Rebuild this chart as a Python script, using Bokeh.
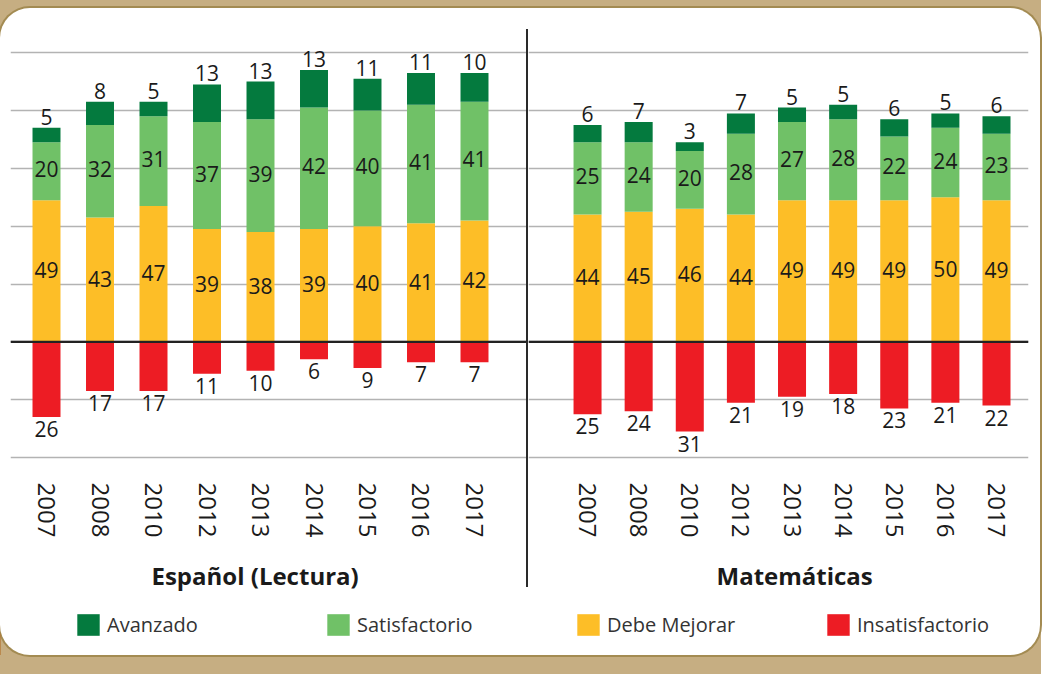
import numpy as np
from bokeh.plotting import figure
from bokeh.models import (Range1d, FixedTicker, Span, Title, Legend, LegendItem,
                          ColumnDataSource, Column, Row, Spacer)
from bokeh.core.properties import value
from bokeh.embed import file_html
from bokeh.resources import INLINE

# ---------------- data ----------------
years_es = ["2007", "2008", "2010", "2012", "2013", "2014", "2015", "2016", "2017"]
es_avanzado = [5, 8, 5, 13, 13, 13, 11, 11, 10]
es_satisfactorio = [20, 32, 31, 37, 39, 42, 40, 41, 41]
es_debe_mejorar = [49, 43, 47, 39, 38, 39, 40, 41, 42]
es_insatisfactorio = [26, 17, 17, 11, 10, 6, 9, 7, 7]

years_ma = ["2007", "2008", "2010", "2012", "2013", "2014", "2015", "2016", "2017"]
ma_avanzado = [6, 7, 3, 7, 5, 5, 6, 5, 6]
ma_satisfactorio = [25, 24, 20, 28, 27, 28, 22, 24, 23]
ma_debe_mejorar = [44, 45, 46, 44, 49, 49, 49, 50, 49]
ma_insatisfactorio = [25, 24, 31, 21, 19, 18, 23, 21, 22]

categories = ["Avanzado", "Satisfactorio", "Debe Mejorar", "Insatisfactorio"]
colors = ["#047a3e", "#70c167", "#fdbe27", "#ed1c24"]
grid_ticks = [-40, -20, 0, 20, 40, 60, 80, 100]
titles = ["Español (Lectura)", "Matemáticas"]

FONT = "Open Sans"
TAN = "#c6ae82"
TEXT = "#1a1a1a"

FIG_H = 582
FRAME_H = 433


def make_panel(years, av, sa, dm, ins, title, width, x_start, x_end, bar_w,
               mb_left, mb_right, title_offset):
    n = len(years)
    xs = list(range(n))
    p = figure(width=width, height=FIG_H,
               x_range=Range1d(x_start, x_end), y_range=Range1d(-41.7, 108),
               y_axis_location=None, output_backend="svg", toolbar_location=None,
               min_border_left=mb_left, min_border_right=mb_right,
               min_border_top=0, min_border_bottom=FIG_H - FRAME_H)
    p.border_fill_color = None
    p.background_fill_color = None
    p.outline_line_color = None

    src = ColumnDataSource(dict(
        x=xs, dm=dm, sa=sa, av=av,
        neg=[-v for v in ins],
    ))
    p.vbar_stack(["dm", "sa", "av"], x="x", width=bar_w, source=src,
                 color=[colors[2], colors[1], colors[0]], line_color=None)
    p.vbar(x="x", top=0, bottom="neg", width=bar_w, source=src,
           fill_color=colors[3], line_color=None)

    # grid & zero line
    p.xgrid.grid_line_color = None
    p.ygrid.ticker = FixedTicker(ticks=grid_ticks)
    p.ygrid.grid_line_color = "#b3b3b3"
    p.ygrid.grid_line_width = 1.5
    p.add_layout(Span(location=0, dimension="width", line_color="#222222",
                      line_width=2.2))

    # value labels
    lab_font = value(FONT)
    fs = "21px"
    top_y = [d + s + a for d, s, a in zip(dm, sa, av)]
    p.text(x=xs, y=top_y, text=[str(v) for v in av], text_align="center",
           text_baseline="bottom", y_offset=-3, text_font=lab_font,
           text_font_size=fs, text_color=TEXT)
    sat_y = [d + s / 2 for d, s in zip(dm, sa)]
    p.text(x=xs, y=sat_y, text=[str(v) for v in sa], text_align="center",
           text_baseline="middle", y_offset=-2, text_font=lab_font,
           text_font_size=fs, text_color=TEXT)
    dm_y = [d / 2 for d in dm]
    p.text(x=xs, y=dm_y, text=[str(v) for v in dm], text_align="center",
           text_baseline="middle", y_offset=-1, text_font=lab_font,
           text_font_size=fs, text_color=TEXT)
    ins_y = [-v for v in ins]
    p.text(x=xs, y=ins_y, text=[str(v) for v in ins], text_align="center",
           text_baseline="top", y_offset=4, text_font=lab_font,
           text_font_size=fs, text_color=TEXT)

    # x axis (years)
    ax = p.xaxis[0]
    ax.ticker = FixedTicker(ticks=xs)
    ax.major_label_overrides = {i: y for i, y in enumerate(years)}
    ax.major_label_orientation = "vertical"
    ax.axis_line_color = None
    ax.major_tick_line_color = None
    ax.minor_tick_line_color = None
    ax.major_tick_out = 0
    ax.major_tick_in = 0
    ax.major_label_standoff = 20
    ax.major_label_text_font = FONT
    ax.major_label_text_font_size = "24px"
    ax.major_label_text_color = TEXT

    # group title below the years
    p.add_layout(Title(text=title, align="left", offset=title_offset,
                       standoff=33, text_font=FONT, text_font_style="bold",
                       text_font_size="24px", text_color=TEXT), "below")
    return p


left = make_panel(years_es, es_avanzado, es_satisfactorio, es_debe_mejorar,
                  es_insatisfactorio, titles[0], 526, -0.673, 8.972, 0.523, 10, 0,
                  141)
right = make_panel(years_ma, ma_avanzado, ma_satisfactorio, ma_debe_mejorar,
                   ma_insatisfactorio, titles[1], 512, -1.155, 8.626, 0.548, 0, 12,
                   188)

divider = Spacer(width=2, height=558, styles={"background-color": "#2a2a2a"})

# legend figure (legend glyphs need a renderer; the point lies off-frame)
LEG_H = 647 - 21 - FIG_H
lg = figure(width=1040, height=LEG_H, x_range=Range1d(0, 1), y_range=Range1d(0, 1),
            x_axis_location=None, y_axis_location=None, toolbar_location=None,
            output_backend="svg", min_border_left=0, min_border_right=0,
            min_border_top=0, min_border_bottom=0)
lg.border_fill_color = None
lg.background_fill_color = None
lg.outline_line_color = None
lg.grid.visible = False
items = []
for cat, col in zip(categories, colors):
    r = lg.vbar(x=[-5], top=[0.5], width=0.1, fill_color=col, line_color=None)
    items.append(LegendItem(label=cat, renderers=[r]))
legend = Legend(items=items, orientation="horizontal", location=(74, 17),
                glyph_width=28, glyph_height=27, label_standoff=5,
                label_width=197, spacing=20, padding=0, margin=0,
                border_line_color=None, background_fill_alpha=0,
                label_text_font=FONT, label_text_font_size="20px",
                label_text_color="#333333")
lg.add_layout(legend, "center")

panel = Column(children=[Spacer(width=1040, height=21),
                         Row(children=[left, divider, right]),
                         lg],
               width=1040, height=647,
               styles={"background-color": "white", "border-radius": "30px",
                       "box-shadow": "0 0 0 2px #a38b52"})

outer = Column(children=[Spacer(width=1041, height=8), panel],
               width=1041, height=674,
               styles={"background-color": TAN})

open("out.html", "w").write(file_html(outer, INLINE))
